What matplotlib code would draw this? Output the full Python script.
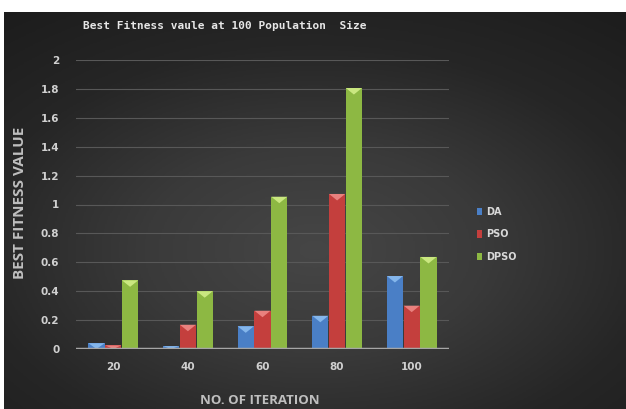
import numpy as np
import matplotlib.pyplot as plt
from matplotlib.patches import Polygon
from matplotlib.colors import LinearSegmentedColormap

# Best fitness value at 100 population size
iterations = ['20', '40', '60', '80', '100']
da = [0.04, 0.02, 0.157, 0.23, 0.505]
pso = [0.025, 0.168, 0.265, 1.073, 0.30]
dpso = [0.475, 0.40, 1.054, 1.806, 0.637]

series = [('DA', da, '#4a7fc6', '#8fc0f2'),
          ('PSO', pso, '#c43f3d', '#f08d8a'),
          ('DPSO', dpso, '#8db843', '#d5f08c')]

fig = plt.figure(figsize=(6.26, 4.09), dpi=100)
fig.patch.set_facecolor('white')

# dark radial background
bg = fig.add_axes([4 / 626, 0, 622 / 626, 397 / 409], zorder=-10)
yy, xx = np.mgrid[-1:1:300j, -1:1:400j]
r = np.sqrt((xx * 0.85) ** 2 + ((yy - 0.2) * 0.9) ** 2)
bg_cmap = LinearSegmentedColormap.from_list('bg', ['#464646', '#3a3a3a', '#262626', '#1c1c1c'])
bg.imshow(r, cmap=bg_cmap, vmin=0, vmax=1.4, aspect='auto', extent=[0, 1, 0, 1])
bg.axis('off')

ax = fig.add_axes([76 / 626, 60 / 409, 373 / 626, 289 / 409])
ax.set_facecolor('none')

x = np.arange(len(iterations))
w = 0.225
tri_h = 0.045
for k, (name, vals, col, light) in enumerate(series):
    pos = x + (k - 1) * w
    ax.bar(pos, vals, width=w * 0.96, color=col, label=name, zorder=3,
           edgecolor='none')
    for p, v in zip(pos, vals):
        half = w * 0.96 / 2
        h = min(tri_h, v)
        ax.add_patch(Polygon([[p - half, v], [p + half, v], [p, v - h]],
                             closed=True, facecolor=light, edgecolor='none',
                             alpha=0.85, zorder=4))

ax.set_xlim(-0.5, len(iterations) - 0.5)
ax.set_ylim(0, 2)
ax.set_yticks(np.arange(0, 2.01, 0.2))
ax.set_yticklabels(['0', '0.2', '0.4', '0.6', '0.8', '1', '1.2', '1.4', '1.6', '1.8', '2'])
ax.set_xticks(x)
ax.set_xticklabels(iterations)
ax.grid(axis='y', color='#585858', lw=0.8, zorder=0)
ax.axhline(0, color='#a6a6a6', lw=2.5, zorder=5)
for s in ax.spines.values():
    s.set_visible(False)
ax.tick_params(length=0, colors='#d0d0d0', labelsize=7.5)
ax.tick_params(axis='y', pad=12)
ax.tick_params(axis='x', pad=9)
for t in ax.get_xticklabels() + ax.get_yticklabels():
    t.set_fontweight('bold')
    t.set_family('DejaVu Sans')

fig.text(225 / 626, 1 - 26 / 409, 'Best Fitness vaule at 100 Population  Size',
         family='DejaVu Sans Mono', fontweight='bold', fontsize=8, color='#e6e6e6',
         ha='center', va='center')
fig.text(20 / 626, 1 - 203 / 409, 'BEST FITNESS VALUE', family='Open Sans',
         fontweight='bold', fontsize=11, color='#bfbfbf', rotation=90,
         ha='center', va='center')
fig.text(260 / 626, 1 - 400 / 409, 'NO. OF ITERATION', family='Open Sans',
         fontweight='bold', fontsize=9.5, color='#bfbfbf', ha='center', va='center')

leg = ax.legend(loc='upper left', bbox_to_anchor=(468 / 626, 1 - 198 / 409),
                bbox_transform=fig.transFigure, frameon=False,
                handlelength=0.5, handleheight=0.8, labelspacing=1.3,
                handletextpad=0.5, labelcolor='#d9d9d9',
                prop={'family': 'DejaVu Sans', 'weight': 'bold', 'size': 7})

fig.savefig('out.png', dpi=100, facecolor=fig.get_facecolor())
